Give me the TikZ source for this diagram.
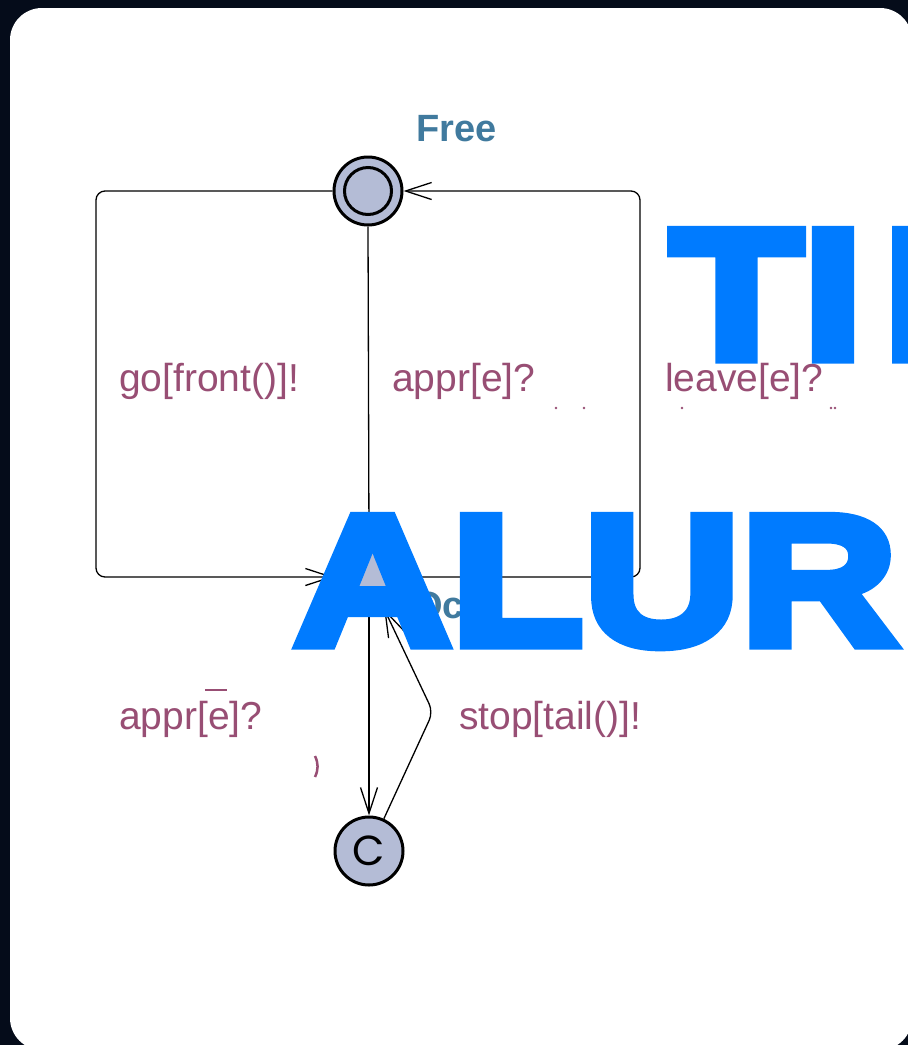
\documentclass[tikz,border=0pt]{standalone}
\usepackage{fontspec}
\setmainfont{Liberation Sans}
\newfontfamily\bigfont[FakeStretch=1.18,FakeBold=6]{Liberation Sans Bold}
\newfontfamily\cfont{Poppins}
\usetikzlibrary{arrows.meta}
\definecolor{bgnavy}{RGB}{5,12,26}
\definecolor{locfill}{RGB}{180,188,214}
\definecolor{loclabel}{RGB}{64,122,158}
\definecolor{edgelabel}{RGB}{152,78,116}
\definecolor{bigblue}{RGB}{0,123,255}
\begin{document}
\begin{tikzpicture}[x=1pt,y=-1pt,
  loc/.style={circle,draw=black,line width=3pt,fill=locfill,minimum size=68pt,inner sep=0pt},
  edge/.style={draw=black,line width=1.3pt,rounded corners=9pt,-{Straight Barb[length=26pt,width=17pt]}},
  elabel/.style={text=edgelabel,inner sep=0pt,anchor=base west,font=\fontsize{39}{41}\selectfont},
  llabel/.style={text=loclabel,inner sep=0pt,anchor=base west,font=\bfseries\fontsize{38}{40}\selectfont},
  bigtext/.style={text=bigblue,inner sep=0pt,anchor=base west,font=\bigfont\fontsize{184}{194}\selectfont}
]
\useasboundingbox (0,0) rectangle (908,1045);
\clip (0,0) rectangle (908,1045);
\fill[bgnavy] (0,0) rectangle (908,1045);
\fill[white,rounded corners=32pt] (10,8) rectangle (912,1050);

% locations
\node[loc] (free) at (368,191) {};
\draw[line width=3pt] (free.center) circle[radius=23.5pt];
\node[loc] (occ) at (369,577) {};
\node[loc,font=\cfont\fontsize{42}{42}\selectfont] (com) at (369,851) {C};

% edges
\coordinate (lt) at (96,191);
\coordinate (lb) at (96,577);
\coordinate (rb) at (640,577);
\coordinate (rt) at (640,191);
\coordinate (sb) at (433,712);
\draw[edge] (free.west) -- (lt) -- (lb) -- (occ.west);
\draw[edge] (occ.east) -- (rb) -- (rt) -- (free.east);
\draw[edge] (free.south) -- (occ.north);
\draw[edge] (occ.south) -- (com.north);
\draw[edge] (com) -- (sb) -- (occ);

% labels
\node[llabel] (freelabel) at (416,141) {Free};
\node[llabel] (occlabel) at (413,618) {Oc};
\node[elabel] (golabel) at (119,391) {go[front()]!};
\node[elabel] (apprlabel) at (392,391) {appr[e]?};
\node[elabel] (leavelabel) at (665,391) {leave[e]?};
\node[elabel] (appr2label) at (119,729) {appr[e]?};
\node[elabel] (stoplabel) at (459,729) {stop[tail()]!};

% fragments
\draw[edgelabel,line width=1.5pt] (205,690) -- (227,690);
\draw[edgelabel,line width=2.5pt] (315,756) to[bend left=25] (315,777);
\foreach \p in {(556,408),(584,408),(682,408),(831,408),(835,408)}
  \fill[edgelabel] \p circle[radius=1.3pt];

% big overlay text
\node[bigtext] (tim) at (670,358) {TI\kern 20pt M};
\node[bigtext] (alur) at (294,644) {ALUR};
\end{tikzpicture}
\end{document}
